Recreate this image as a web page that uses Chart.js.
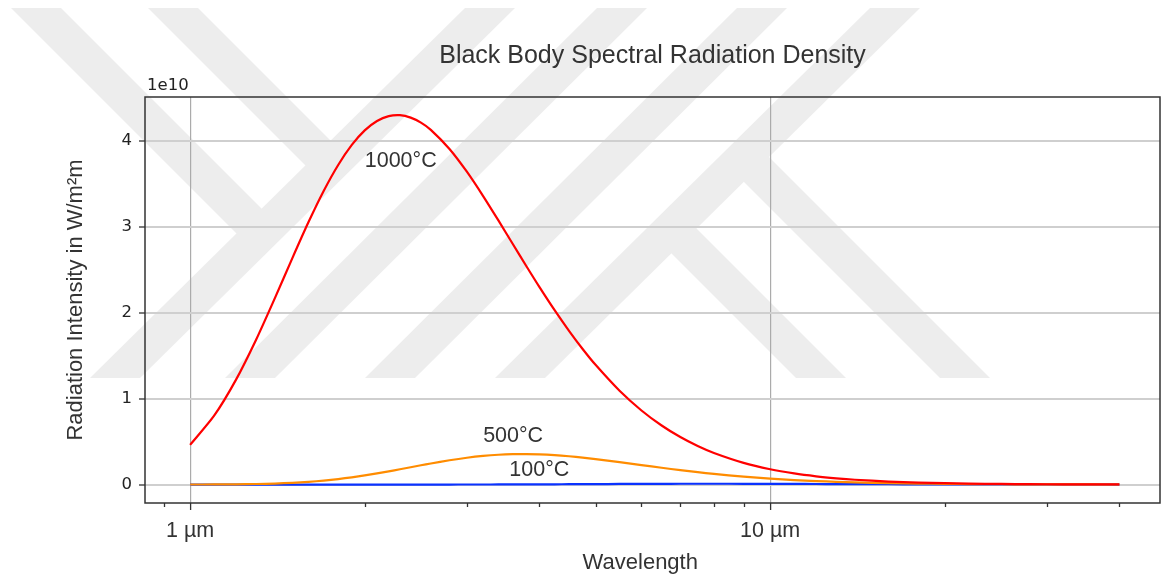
<!DOCTYPE html>
<html>
<head>
<meta charset="utf-8">
<title>Black Body Spectral Radiation Density</title>
<script src="https://cdn.jsdelivr.net/npm/chart.js@4.4.1/dist/chart.umd.min.js"></script>
<style>
  html, body { margin: 0; padding: 0; background: #fff; }
  #chart { display: block; }
</style>
</head>
<body>
<canvas id="chart" width="1168" height="580"></canvas>
<script>
// Wavelength in µm
const wavelengths = [1.0, 1.1, 1.2, 1.3, 1.4, 1.5, 1.6, 1.7, 1.8, 1.9, 2.0, 2.1, 2.2, 2.3, 2.4, 2.5, 2.6,
    2.8, 3.0, 3.2, 3.4, 3.6, 3.8, 4.0, 4.25, 4.5, 4.75, 5.0, 5.5, 6.0, 6.5, 7.0, 7.5, 8.0,
    9, 10, 11, 12, 13, 14, 16, 18, 20, 22, 25, 28, 32, 36, 40];

// Radiation intensity in W/m²m
const radiation1000 = [4.625e9, 8.021e9, 1.2225e10, 1.6907e10, 2.1723e10, 2.6356e10, 3.0578e10, 3.4229e10,
    3.7229e10, 3.9565e10, 4.1257e10, 4.2353e10, 4.2919e10, 4.3029e10, 4.2751e10, 4.2166e10, 4.1324e10,
    3.91e10, 3.6446e10, 3.3611e10, 3.077e10, 2.8019e10, 2.5433e10, 2.3031e10, 2.0315e10, 1.7912e10,
    1.5796e10, 1.3947e10, 1.0926e10, 8.629e9, 6.877e9, 5.531e9, 4.489e9, 3.676e9,
    2.524e9, 1.785e9, 1.295e9, 9.61e8, 7.28e8, 5.6e8, 3.48e8, 2.27e8, 1.54e8, 1.08e8, 6.7e7, 4.37e7,
    2.63e7, 1.68e7, 1.12e7];

const radiation500 = [3.1e6, 1.045e7, 2.769e7, 6.118e7, 1.1744e8, 2.0173e8, 3.1724e8, 4.6434e8,
    6.4098e8, 8.429e8, 1.0644e9, 1.2989e9, 1.5401e9, 1.7813e9, 2.0173e9, 2.2434e9, 2.4558e9,
    2.8282e9, 3.1219e9, 3.3349e9, 3.4716e9, 3.5408e9, 3.5534e9, 3.5193e9, 3.4278e9, 3.2968e9,
    3.1397e9, 2.9682e9, 2.6111e9, 2.2665e9, 1.9531e9, 1.6773e9, 1.4392e9, 1.2361e9,
    9.175e8, 6.892e8, 5.246e8, 4.048e8, 3.164e8, 2.504e8, 1.622e8, 1.093e8, 7.61e7, 5.46e7, 3.47e7,
    2.3e7, 1.41e7, 9.14e6, 6.17e6];

const radiation100 = [0, 0.1, 1.7, 13, 76, 340, 1220, 3740, 9850, 2.33e4, 4.96e4, 9.73e4, 1.776e5,
    3.047e5, 4.95e5, 7.68e5, 1.142e6, 2.273e6, 4.032e6, 6.524e6, 9.78e6, 1.38e7, 1.851e7, 2.379e7,
    3.098e7, 3.854e7, 4.617e7, 5.362e7, 6.715e7, 7.8e7, 8.579e7, 9.06e7, 9.281e7, 9.288e7,
    8.857e7, 8.088e7, 7.195e7, 6.303e7, 5.473e7, 4.731e7, 3.522e7, 2.634e7, 1.99e7, 1.522e7, 1.043e7,
    7.34e6, 4.77e6, 3.23e6, 2.25e6];

const majorTicksX = [1, 10];
const minorTicksX = [0.9, 2, 3, 4, 5, 6, 7, 8, 9, 20, 30, 40];
const ticksY = [0, 1e10, 2e10, 3e10, 4e10];

const curveLabels = [
    { text: '1000°C', x: 2.0, y: 3.7e10 },
    { text: '500°C', x: 3.2, y: 0.5e10 },
    { text: '100°C', x: 3.55, y: 0.1e10 }
];

const TEXT = '#333';
const SANS = 'Liberation Sans, Arial, sans-serif';
const DEJAVU = 'DejaVu Sans, sans-serif';

// grey logo in the background of the page
const watermark = {
    id: 'watermark',
    beforeDraw(chart) {
        const ctx = chart.ctx;
        ctx.save();
        ctx.fillStyle = '#fff';
        ctx.fillRect(0, 0, chart.width, chart.height);
        ctx.fillStyle = '#ededed';
        const shapes = [
            [[465, 8], [515, 8], [140, 378], [90, 378]],
            [[597, 8], [647, 8], [275, 378], [225, 378]],
            [[737, 8], [787, 8], [415, 378], [365, 378]],
            [[870, 8], [920, 8], [545, 378], [495, 378]],
            [[11, 8], [61, 8], [274, 221], [249, 246]],
            [[148, 8], [198, 8], [343, 153], [318, 178]],
            [[796, 378], [846, 378], [684, 216], [659, 241]],
            [[940, 378], [990, 378], [757, 145], [731, 169]]
        ];
        shapes.forEach(pts => {
            ctx.beginPath();
            pts.forEach(([x, y], i) => i ? ctx.lineTo(x, y) : ctx.moveTo(x, y));
            ctx.closePath();
            ctx.fill();
        });
        ctx.restore();
    }
};

// box, minor ticks, offset text and curve labels
const decorations = {
    id: 'decorations',
    afterDatasetsDraw(chart) {
        const { ctx, chartArea: area, scales: { x, y } } = chart;
        ctx.save();

        ctx.fillStyle = TEXT;
        ctx.font = '21.5px ' + SANS;
        ctx.textAlign = 'left';
        ctx.textBaseline = 'alphabetic';
        curveLabels.forEach(l => {
            ctx.fillText(l.text, x.getPixelForValue(l.x), y.getPixelForValue(l.y));
        });

        ctx.strokeStyle = TEXT;
        ctx.lineWidth = 1.3;
        minorTicksX.forEach(v => {
            const px = Math.round(x.getPixelForValue(v)) + 0.5;
            ctx.beginPath();
            ctx.moveTo(px, area.bottom);
            ctx.lineTo(px, area.bottom + 4);
            ctx.stroke();
        });

        ctx.lineWidth = 1.5;
        ctx.strokeRect(area.left, area.top, area.right - area.left, area.bottom - area.top);

        ctx.fillStyle = '#222';
        ctx.font = '16.5px ' + DEJAVU;
        ctx.fillText('1e10', area.left + 2, area.top - 7);
        ctx.restore();
    }
};

new Chart(document.getElementById('chart'), {
    type: 'line',
    data: {
        labels: wavelengths,
        datasets: [
            { label: '1000°C', data: radiation1000, borderColor: '#ff0000', borderWidth: 2.2 },
            { label: '500°C', data: radiation500, borderColor: '#ff8c00', borderWidth: 2.2 },
            { label: '100°C', data: radiation100, borderColor: '#0a32ff', borderWidth: 2.2 }
        ]
    },
    options: {
        responsive: false,
        animation: false,
        devicePixelRatio: 1,
        layout: { padding: { left: 0, right: 8, top: 0, bottom: 0 } },
        elements: { point: { radius: 0 }, line: { tension: 0.25, fill: false } },
        plugins: {
            legend: { display: false },
            tooltip: { enabled: false },
            title: {
                display: true,
                text: 'Black Body Spectral Radiation Density',
                fullSize: false,
                color: TEXT,
                font: { family: SANS, size: 25, weight: 'normal' },
                padding: { top: 41, bottom: 26 }
            }
        },
        scales: {
            x: {
                type: 'logarithmic',
                min: 0.836,
                max: 47,
                bounds: 'data',
                afterBuildTicks: s => { s.ticks = majorTicksX.map(v => ({ value: v })); },
                afterFit: s => { s.height = 77; },
                ticks: {
                    callback: v => v + ' µm',
                    autoSkip: false,
                    maxRotation: 0,
                    color: TEXT,
                    font: { family: SANS, size: 21.5 },
                    padding: 8
                },
                grid: { color: '#ababab', lineWidth: 1.2, tickLength: 7, tickColor: TEXT, tickWidth: 1.3 },
                border: { display: false },
                title: {
                    display: true,
                    // trailing spaces nudge the label left, as in the original
                    text: 'Wavelength\u00a0\u00a0\u00a0\u00a0',
                    color: TEXT,
                    font: { family: SANS, size: 22 },
                    padding: { top: 0, bottom: 4 }
                }
            },
            y: {
                type: 'linear',
                min: -0.215e10,
                max: 4.515e10,
                afterBuildTicks: s => { s.ticks = ticksY.map(v => ({ value: v })); },
                afterFit: s => { s.width = 145; },
                ticks: {
                    callback: v => String(v / 1e10),
                    color: '#222',
                    font: { family: DEJAVU, size: 16.5 },
                    padding: 7
                },
                grid: { color: '#cfcfcf', lineWidth: 2, tickLength: 6, tickColor: TEXT, tickWidth: 1.3 },
                border: { display: false },
                title: {
                    display: true,
                    text: 'Radiation Intensity in W/m²m',
                    color: TEXT,
                    font: { family: SANS, size: 22 },
                    padding: { top: 63, bottom: 0 }
                }
            }
        }
    },
    plugins: [watermark, decorations]
});
</script>
</body>
</html>
